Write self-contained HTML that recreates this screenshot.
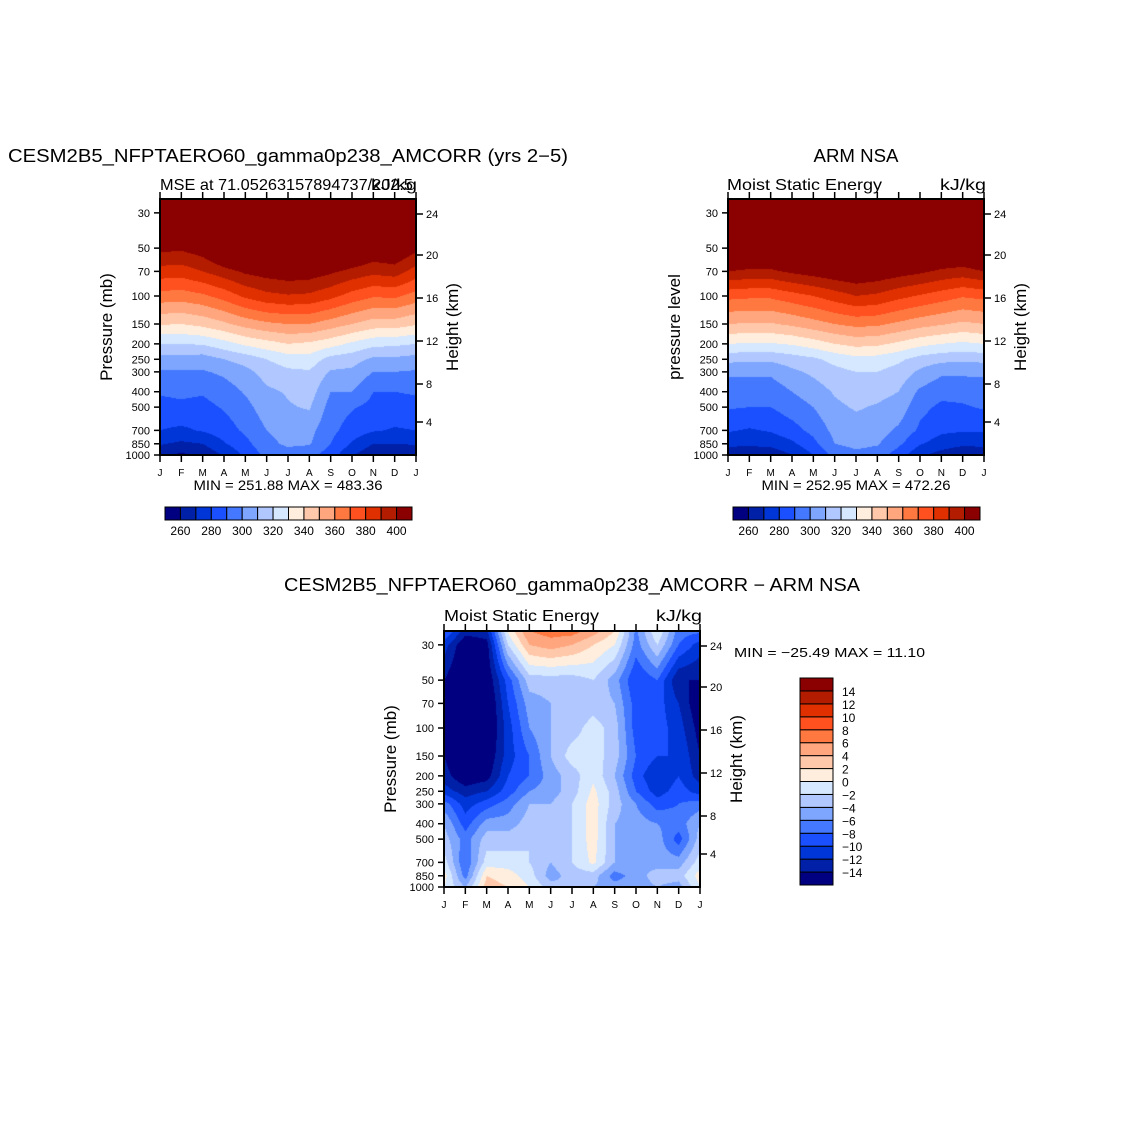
<!DOCTYPE html>
<html><head><meta charset="utf-8"><style>
body{margin:0;background:#fff;width:1146px;height:1146px;position:relative;overflow:hidden;font-family:"Liberation Sans",sans-serif}
canvas{position:absolute}
svg{position:absolute;left:0;top:0}
</style></head><body>
<canvas id="c1" width="256" height="256" style="left:160px;top:199px"></canvas>
<canvas id="c2" width="256" height="256" style="left:728px;top:199px"></canvas>
<canvas id="c3" width="256" height="256" style="left:444px;top:631px"></canvas>
<svg id="ov" width="1146" height="1146"></svg>
<script>
const months=["J","F","M","A","M","J","J","A","S","O","N","D","J"];
const pLevels=[1000,850,700,500,400,300,250,200,150,100,70,50,30,20];
const pTicks=[30,50,70,100,150,200,250,300,400,500,700,850,1000];
const kmTicks=[4,8,12,16,20,24];
const mseLevels=[260,270,280,290,300,310,320,330,340,350,360,370,380,390,400];
const diffLevels=[-14,-12,-10,-8,-6,-4,-2,0,2,4,6,8,10,12,14];
const colors=["#000080","#0020a8","#0036d8","#1a50ff","#4478ff","#7ea6ff","#b0c8ff","#d6e8ff","#ffeedd","#ffc8aa","#ffa67e","#ff7840","#ff5020","#e03000","#b41c00","#8b0000"];
const modelMSE=[
[262,271,280,287,291,299,306,320,341,366,386,403,440,470],
[258,268,278,288,292,299,306,320,340,365,385,402,440,470],
[262,270,281,287,291,299,305,321,343,368,390,406,445,470],
[271,279,285,291,295,302,310,326,348,374,396,418,450,475],
[282,287,292,297,301,307,314,332,354,382,402,425,455,480],
[293,297,300,305,308,314,320,336,358,387,405,430,460,485],
[295,302,304,309,311,318,325,340,360,389,407,432,462,485],
[293,301,303,311,315,319,326,338,360,388,406,430,460,485],
[285,290,293,296,300,309,316,334,355,383,402,425,455,480],
[271,279,285,291,300,308,314,328,350,376,397,418,450,475],
[262,270,281,287,290,300,308,323,345,371,393,410,445,470],
[260,270,279,286,290,300,308,322,345,372,395,412,445,470],
[262,271,280,287,291,299,306,320,341,366,386,403,440,470]];
const obsMSE=[
[262,273,281,291,295,302,313,330,350,373,400,420,450,475],
[262,272,279,290,294,302,312,329,349,372,398,418,450,475],
[263,273,281,290,294,302,312,329,349,372,398,418,450,475],
[270,278,286,295,300,308,315,331,352,376,402,422,455,480],
[280,287,293,300,305,312,318,335,356,380,405,425,455,480],
[293,300,303,308,311,317,323,340,360,385,408,428,460,485],
[297,303,306,311,314,320,327,343,363,390,410,430,460,485],
[295,301,305,309,313,320,326,342,362,388,408,428,460,485],
[285,292,298,306,310,316,322,338,358,383,405,425,455,480],
[272,281,288,293,298,308,316,333,354,379,402,422,455,480],
[266,275,282,288,293,302,313,330,351,375,398,418,450,475],
[262,272,281,289,293,302,312,328,348,371,396,416,450,475],
[262,273,281,291,295,302,313,330,350,373,400,420,450,475]];
const diffMSE=[
[0,1,-1,-3,-4,-7,-11,-13,-14,-15,-16,-14,-11,-4],
[-4,-7,-8,-7,-9,-11,-13,-16,-17,-18,-18,-17,-16,-10],
[3,2,-1,-3,-5,-9,-12,-15,-16,-17,-17,-16,-15,-10],
[2,1,-1,-3,-5,-7,-9,-10,-11,-11,-10,-9,-2,3],
[0,-1,-2,-2,-3,-4,-6,-8,-8,-6,-5,-3,4,8],
[-3,-5,-4,-4,-3,-4,-5,-5,-4,-4,-4,-3,5,9],
[-4,-3,-2,-2,-2,-2,-3,-3,-1,-3,-4,-3,4,10],
[-4,-3,0.5,1,1,1,0.5,-0.5,-1,-1,-3,-2,2,8],
[-5,-7,-4,-4,-4,-3,-3,-4,-3,-3,-4,-5,0,4],
[-5,-5,-4,-5,-5,-6,-8,-9,-8,-9,-9,-10,-7,-6],
[-4,-3,-5,-5,-6,-9,-11,-12,-10,-9,-9,-8,-2,2],
[-5,-3,-5,-9,-7,-8,-9,-10,-10,-11,-12,-14,-8,-6],
[0,1,-1,-3,-4,-7,-11,-13,-14,-15,-16,-14,-11,-4]];

const DEC=159, H=256, W=256;
function yOfP(p){return H-DEC*(3-Math.log10(p));}
function xOfM(i){return i*W/12;}
function colorIdx(v,levels){let k=0;while(k<levels.length&&v>=levels[k])k++;return k;}
function sample(grid,mx,lp){
  const i=Math.min(11,Math.floor(mx)),fx=mx-i;
  const lps=pLevels.map(p=>Math.log10(p));
  let j=0;while(j<lps.length-2&&lp<lps[j+1])j++;
  const fy=(lps[j]-lp)/(lps[j]-lps[j+1]);
  const a=grid[i][j]+(grid[i][j+1]-grid[i][j])*fy;
  const b=grid[i+1][j]+(grid[i+1][j+1]-grid[i+1][j])*fy;
  return a+(b-a)*fx;
}
function drawField(id,grid,levels){
  const ctx=document.getElementById(id).getContext('2d');
  const img=ctx.createImageData(W,H);
  const rgb=colors.map(c=>[parseInt(c.substr(1,2),16),parseInt(c.substr(3,2),16),parseInt(c.substr(5,2),16)]);
  for(let y=0;y<H;y++)for(let x=0;x<W;x++){
    const lp=3-(H-(y+0.5))/DEC;
    const v=sample(grid,(x+0.5)/W*12,lp);
    const c=rgb[colorIdx(v,levels)];
    const o=(y*W+x)*4;img.data[o]=c[0];img.data[o+1]=c[1];img.data[o+2]=c[2];img.data[o+3]=255;
  }
  ctx.putImageData(img,0,0);
}
drawField('c1',modelMSE,mseLevels);
drawField('c2',obsMSE,mseLevels);
drawField('c3',diffMSE,diffLevels);

const NS="http://www.w3.org/2000/svg", ov=document.getElementById('ov');
function el(tag,attrs,txt){const e=document.createElementNS(NS,tag);for(const k in attrs)e.setAttribute(k,attrs[k]);if(txt!==undefined)e.textContent=txt;ov.appendChild(e);return e;}
function txt(x,y,s,size,anchor,name,rot,len){
  const t=el('text',{x:x,y:y,'font-size':size,'text-anchor':anchor||'middle','font-family':'Liberation Sans, sans-serif',fill:'#000'},s);
  if(rot)t.setAttribute('transform','rotate(-90 '+x+' '+y+')');
  if(len){t.setAttribute('textLength',len);t.setAttribute('lengthAdjust','spacingAndGlyphs');}
  
  
  return t;
}
function line(x1,y1,x2,y2,w,name){
  const l=el('line',{x1:x1,y1:y1,x2:x2,y2:y2,stroke:'#000','stroke-width':w||1});
  
  
}
const kmOff=[33,71,114,157,200,241];
function axes(x0,y0,ylab,pfx){
  const r=el('rect',{x:x0,y:y0,width:W,height:H,fill:'none',stroke:'#000','stroke-width':2});
  
  
  pTicks.forEach(p=>{const y=y0+yOfP(p);line(x0-6,y,x0,y,1.5,pfx+'-y-tick');
    txt(x0-10,y+4,String(p),11,'end',pfx+'-y-tick-label');});
  kmTicks.forEach((k,i)=>{const y=y0+H-kmOff[i];line(x0+W,y,x0+W+7,y,1.5,pfx+'-km-tick');
    txt(x0+W+10,y+4,String(k),11,'start',pfx+'-km-tick-label');});
  months.forEach((m,i)=>{const x=x0+xOfM(i);
    line(x,y0+H,x,y0+H+7,1.5,pfx+'-x-tick');line(x,y0-7,x,y0,1.5,pfx+'-top-tick');
    txt(x,y0+H+21,m,10,'middle',pfx+'-month-label');});
  txt(x0-48,y0+128,ylab,17,'middle',pfx+'-y-axis-title',true);
  txt(x0+W+42,y0+128,'Height (km)',17,'middle',pfx+'-height-axis-title',true);
}
axes(160,199,'Pressure (mb)','model');
axes(728,199,'pressure level','obs');
axes(444,631,'Pressure (mb)','diff');

txt(288,162,'CESM2B5_NFPTAERO60_gamma0p238_AMCORR (yrs 2\u22125)',18,'middle','model-title',false,560);
txt(160,190,'MSE at 71.05263157894737/202.5',16,'start','model-subtitle',false,253);
txt(417,190,'kJ/kg',16,'end','model-units',false,46);
txt(856,162,'ARM NSA',18,'middle','obs-title',false,85);
txt(727,190,'Moist Static Energy',16,'start','obs-subtitle',false,155);
txt(986,190,'kJ/kg',16,'end','obs-units',false,46);
txt(572,591,'CESM2B5_NFPTAERO60_gamma0p238_AMCORR \u2212 ARM NSA',18,'middle','diff-title',false,576);
txt(444,621,'Moist Static Energy',16,'start','diff-subtitle',false,155);
txt(702,621,'kJ/kg',16,'end','diff-units',false,46);
txt(288,490,'MIN = 251.88 MAX = 483.36',14,'middle','model-min-max',false,189);
txt(856,490,'MIN = 252.95 MAX = 472.26',14,'middle','obs-min-max',false,189);
txt(734,657,'MIN = \u221225.49 MAX =  11.10',13,'start','diff-min-max',false,191);

function hbar(x0,y0,pfx){
  const bw=247/16;
  colors.forEach((c,i)=>{const r=el('rect',{x:x0+i*bw,y:y0,width:bw,height:13,fill:c,stroke:'#000','stroke-width':1});
    
    });
  mseLevels.forEach((v,i)=>{if(i%2===0)txt(x0+(i+1)*bw,y0+28,String(v),12,'middle',pfx+'-colorbar-label');});
}
hbar(165,507,'model');hbar(733,507,'obs');
const bh=207/16;
colors.forEach((c,i)=>{const r=el('rect',{x:800,y:885-(i+1)*bh,width:33,height:bh,fill:c,stroke:'#000','stroke-width':1});
  
  });
diffLevels.forEach((v,i)=>{txt(842,885-(i+1)*bh+5,String(v).replace('-','\u2212'),12,'start','diff-colorbar-label');});
</script>
</body></html>
